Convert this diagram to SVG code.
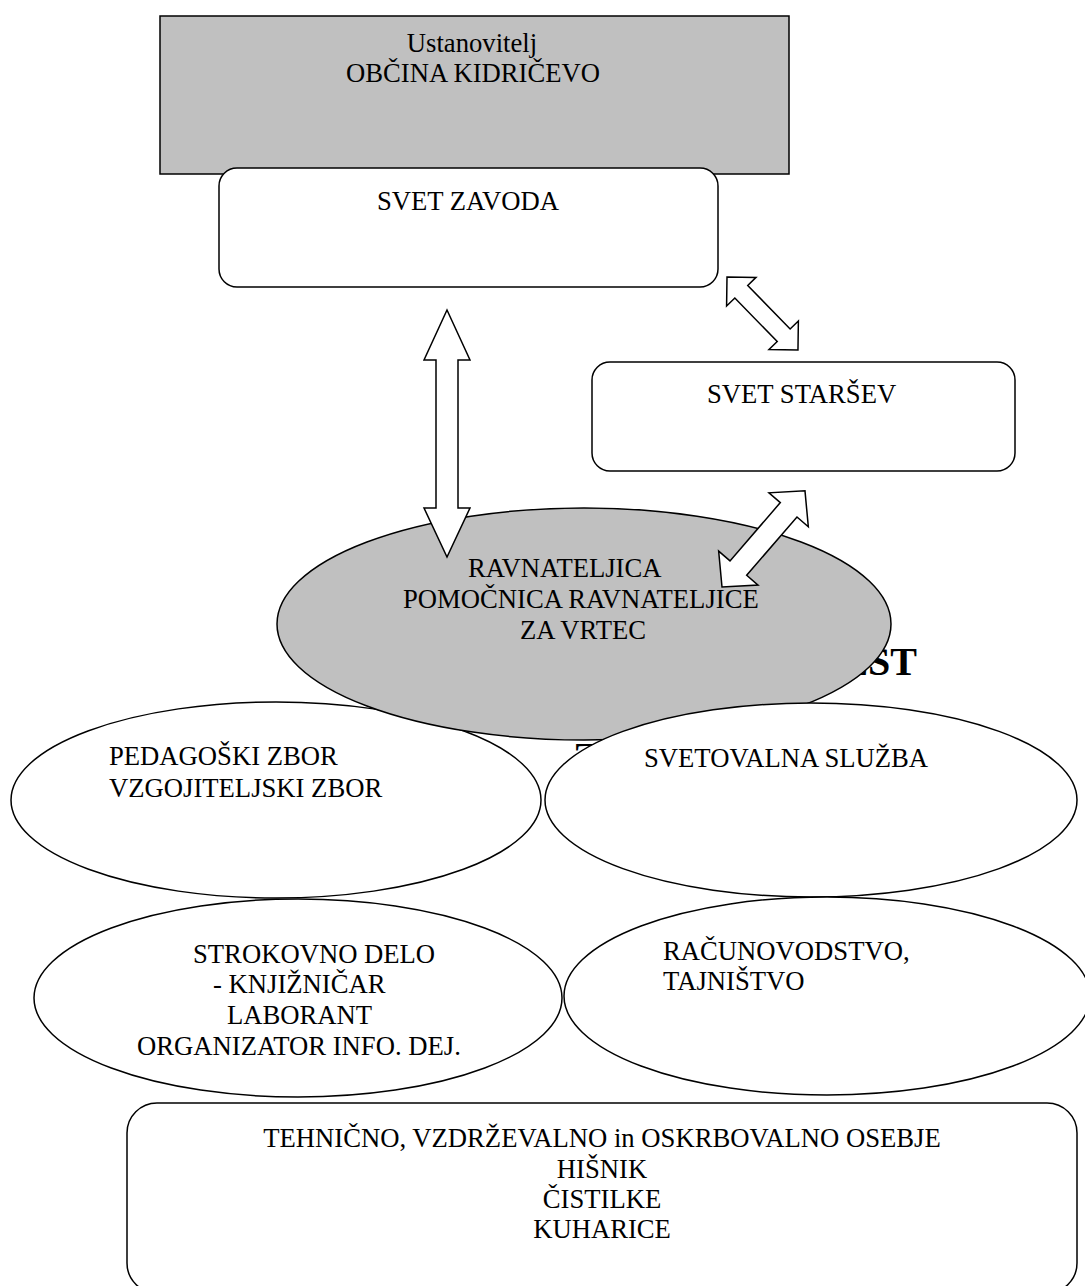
<svg xmlns="http://www.w3.org/2000/svg" width="1085" height="1286" viewBox="0 0 1085 1286">
<style>
  .t { font-family: "Liberation Serif", "Times New Roman", serif; font-size: 26.67px; fill: #000; }
  .c { text-anchor: middle; }
  .b { font-family: "Liberation Serif", "Times New Roman", serif; font-size: 40px; font-weight: bold; fill: #000; }
  .w { fill: #fff; stroke: #000; stroke-width: 1.5; }
  .g { fill: #c0c0c0; stroke: #000; stroke-width: 1.5; }
</style>
<rect width="1085" height="1286" fill="#fff"/>

<!-- partially hidden heading fragments -->
<text class="b" x="917" y="675" text-anchor="end">EST</text>
<text class="b" x="573" y="770">Z</text>

<g id="ustanovitelj">
  <rect class="g" x="160" y="16" width="629" height="158"/>
  <text class="t c" x="472" y="52">Ustanovitelj</text>
  <text class="t c" x="473" y="82">OBČINA KIDRIČEVO</text>
</g>

<g id="svet-zavoda">
  <rect class="w" x="219" y="168" width="499" height="119" rx="18" ry="18"/>
  <text class="t" x="377" y="210">SVET ZAVODA</text>
</g>

<g id="svet-starsev">
  <rect class="w" x="592" y="362" width="423" height="109" rx="18" ry="18"/>
  <text class="t" x="707" y="403">SVET STARŠEV</text>
</g>

<g id="pedagoski-zbor">
  <ellipse class="w" cx="276" cy="800" rx="265" ry="98"/>
  <text class="t" x="109" y="765">PEDAGOŠKI ZBOR</text>
  <text class="t" x="109" y="797">VZGOJITELJSKI ZBOR</text>
</g>

<g id="ravnateljica">
  <ellipse class="g" cx="584" cy="624" rx="307" ry="116"/>
  <text class="t" x="468" y="577">RAVNATELJICA</text>
  <text class="t" x="403" y="608">POMOČNICA RAVNATELJICE</text>
  <text class="t" x="520" y="639">ZA VRTEC</text>
</g>

<g id="svetovalna-sluzba">
  <ellipse class="w" cx="811" cy="800" rx="266" ry="97"/>
  <text class="t" x="644" y="767">SVETOVALNA SLUŽBA</text>
</g>

<g id="strokovno-delo">
  <ellipse class="w" cx="298" cy="998" rx="264" ry="99"/>
  <text class="t" x="193" y="963">STROKOVNO DELO</text>
  <text class="t" x="213" y="993">- KNJIŽNIČAR</text>
  <text class="t" x="227" y="1024">LABORANT</text>
  <text class="t" x="137" y="1055">ORGANIZATOR INFO. DEJ.</text>
</g>

<g id="racunovodstvo">
  <ellipse class="w" cx="827" cy="996" rx="263" ry="99"/>
  <text class="t" x="663" y="960">RAČUNOVODSTVO,</text>
  <text class="t" x="663" y="990">TAJNIŠTVO</text>
</g>

<g id="tehnicno-osebje">
  <rect class="w" x="127" y="1103" width="950" height="190" rx="30" ry="30"/>
  <text class="t c" x="602" y="1147">TEHNIČNO, VZDRŽEVALNO in OSKRBOVALNO OSEBJE</text>
  <text class="t c" x="602" y="1178">HIŠNIK</text>
  <text class="t c" x="602" y="1208">ČISTILKE</text>
  <text class="t c" x="602" y="1238">KUHARICE</text>
</g>

<g id="connectors">
  <polygon class="w" points="447,310 470,360 458,360 458,508 470,508 447,557 424,508 436,508 436,360 424,360"/>
  <polygon class="w" transform="translate(727,277) rotate(45.8)" points="0,0 20.5,-20.5 20.5,-9 81.3,-9 81.3,-20.5 101.8,0 81.3,20.5 81.3,9 20.5,9 20.5,20.5"/>
  <polygon class="w" transform="translate(722,587) rotate(-49.2)" points="0,0 25,-26 25,-11 102,-11 102,-26 127,0 102,26 102,11 25,11 25,26"/>
</g>
</svg>
